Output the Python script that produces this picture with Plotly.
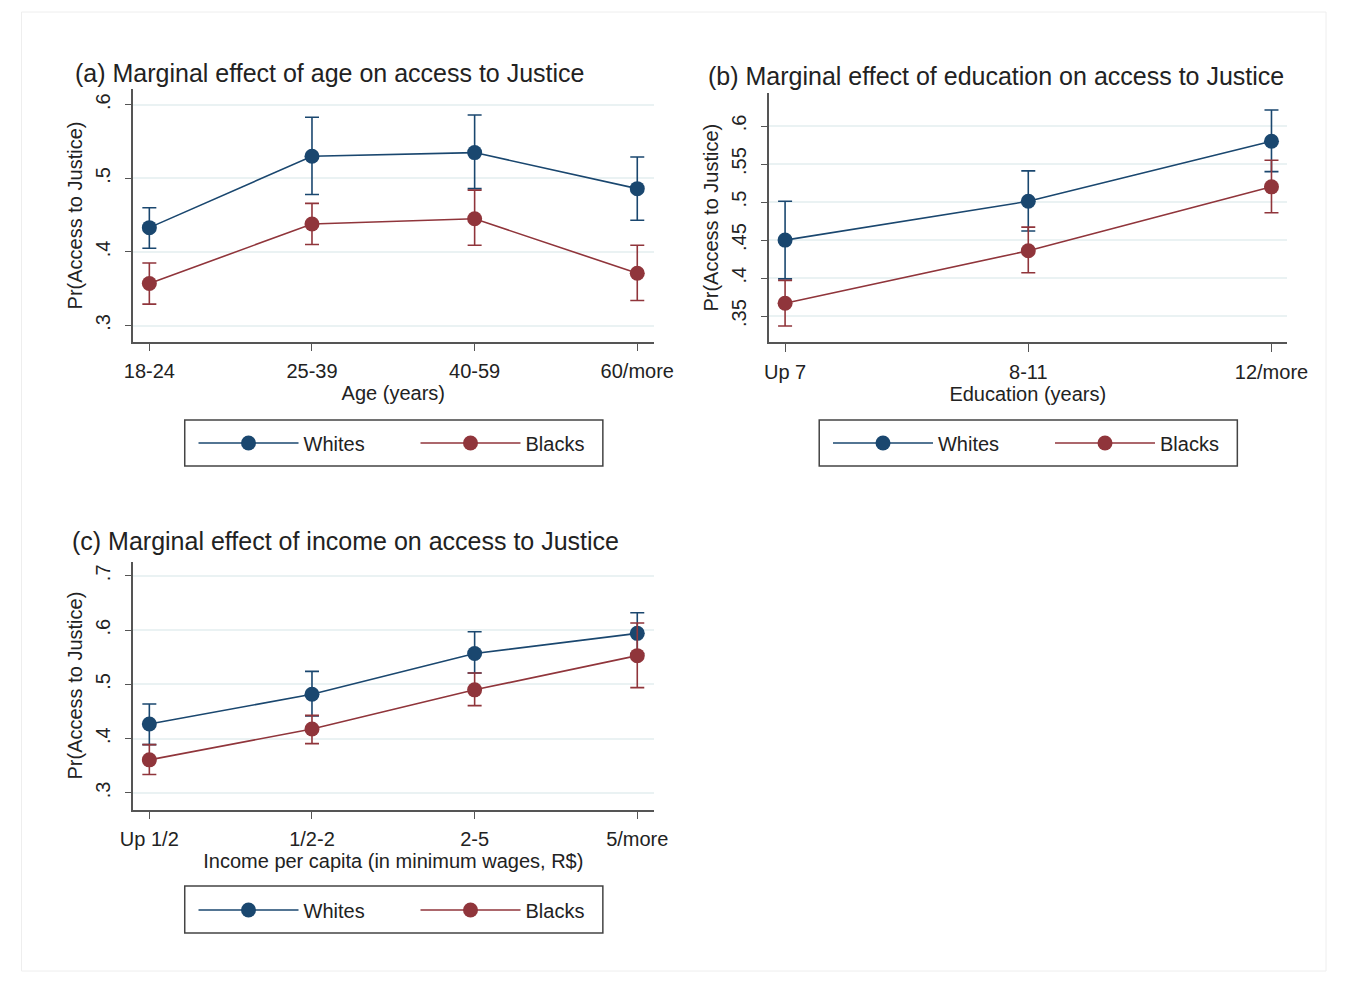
import plotly.graph_objects as go

# ---------------- data ----------------
age_cats = ["18-24", "25-39", "40-59", "60/more"]
age_whites = [0.433, 0.530, 0.535, 0.486]
age_whites_lo = [0.405, 0.478, 0.486, 0.443]
age_whites_hi = [0.460, 0.583, 0.586, 0.529]
age_blacks = [0.357, 0.438, 0.445, 0.371]
age_blacks_lo = [0.329, 0.410, 0.409, 0.334]
age_blacks_hi = [0.385, 0.466, 0.484, 0.409]

edu_cats = ["Up 7", "8-11", "12/more"]
edu_whites = [0.450, 0.501, 0.580]
edu_whites_lo = [0.399, 0.462, 0.540]
edu_whites_hi = [0.501, 0.541, 0.621]
edu_blacks = [0.367, 0.436, 0.520]
edu_blacks_lo = [0.337, 0.407, 0.486]
edu_blacks_hi = [0.397, 0.467, 0.555]

inc_cats = ["Up 1/2", "1/2-2", "2-5", "5/more"]
inc_whites = [0.427, 0.482, 0.557, 0.594]
inc_whites_lo = [0.389, 0.442, 0.521, 0.557]
inc_whites_hi = [0.464, 0.524, 0.597, 0.632]
inc_blacks = [0.361, 0.418, 0.490, 0.553]
inc_blacks_lo = [0.334, 0.391, 0.461, 0.494]
inc_blacks_hi = [0.389, 0.443, 0.521, 0.613]

age_ticks = [0.3, 0.4, 0.5, 0.6]
age_ticktext = [".3", ".4", ".5", ".6"]
edu_ticks = [0.35, 0.4, 0.45, 0.5, 0.55, 0.6]
edu_ticktext = [".35", ".4", ".45", ".5", ".55", ".6"]
inc_ticks = [0.3, 0.4, 0.5, 0.6, 0.7]
inc_ticktext = [".3", ".4", ".5", ".6", ".7"]

titles = ["(a) Marginal effect of age on access to Justice",
          "(b) Marginal effect of education on access to Justice",
          "(c) Marginal effect of income on access to Justice"]
xtitles = ["Age (years)", "Education (years)",
           "Income per capita (in minimum wages, R$)"]
ytitle = "Pr(Access to Justice)"
series_names = ["Whites", "Blacks"]

# ---------------- style ----------------
OFF = 8            # default body margin of the page
W, H = 1340, 964   # figure size so that it fits inside the window
NAVY = "#1a476f"
MAROON = "#90353b"
FONT = "Liberation Sans, Arial, sans-serif"
TXT = "#222222"

def px_x(p):
    return (p - OFF) / W

def px_y(p):
    return 1 - (p - OFF) / H

fig = go.Figure()

panels = [
    dict(cats=age_cats, data=[(age_whites, age_whites_lo, age_whites_hi),
                              (age_blacks, age_blacks_lo, age_blacks_hi)],
         xa="x", ya="y", legend="legend"),
    dict(cats=edu_cats, data=[(edu_whites, edu_whites_lo, edu_whites_hi),
                              (edu_blacks, edu_blacks_lo, edu_blacks_hi)],
         xa="x2", ya="y2", legend="legend2"),
    dict(cats=inc_cats, data=[(inc_whites, inc_whites_lo, inc_whites_hi),
                              (inc_blacks, inc_blacks_lo, inc_blacks_hi)],
         xa="x3", ya="y3", legend="legend3"),
]

colors = [NAVY, MAROON]
for p in panels:
    for (vals, lo, hi), color, name in zip(p["data"], colors, series_names):
        fig.add_trace(go.Scatter(
            x=p["cats"], y=vals, name=name, mode="lines+markers",
            xaxis=p["xa"], yaxis=p["ya"], legend=p["legend"],
            line=dict(color=color, width=1.6),
            marker=dict(color=color, size=15),
            error_y=dict(type="data", symmetric=False,
                         array=[h - v for h, v in zip(hi, vals)],
                         arrayminus=[v - l for v, l in zip(vals, lo)],
                         color=color, thickness=1.6, width=7),
        ))

axis_common = dict(showline=True, linecolor="#555555", linewidth=1.5,
                   ticks="outside", tickcolor="#555555", tickwidth=1.2,
                   zeroline=False, tickfont=dict(family=FONT, size=20, color=TXT),
                   title_font=dict(family=FONT, size=20, color=TXT))

xcommon = dict(axis_common, type="category", showgrid=False, ticklen=8,
               ticklabelstandoff=3)
ycommon = dict(axis_common, showgrid=True, gridcolor="#eaf2f3", gridwidth=1.5,
               ticklen=6, tickangle=-90, ticklabelstandoff=7)

fig.update_layout(
    xaxis=dict(xcommon, domain=[px_x(123), px_x(657)], range=[-0.1, 3.1],
               anchor="y", title=dict(text=xtitles[0], standoff=5)),
    yaxis=dict(ycommon, domain=[px_y(341.7), px_y(89.3)], range=[0.278, 0.621],
               anchor="x", tickvals=age_ticks, ticktext=age_ticktext,
               title=dict(text=ytitle, standoff=4)),
    xaxis2=dict(xcommon, domain=[px_x(775), px_x(1307)], range=[-0.068, 2.064],
                anchor="y2", title=dict(text=xtitles[1], standoff=5)),
    yaxis2=dict(ycommon, domain=[px_y(342), px_y(93.3)], range=[0.316, 0.643],
                anchor="x2", tickvals=edu_ticks, ticktext=edu_ticktext,
                title=dict(text=ytitle, standoff=4)),
    xaxis3=dict(xcommon, domain=[px_x(123), px_x(657)], range=[-0.1, 3.1],
                anchor="y3", title=dict(text=xtitles[2], standoff=5)),
    yaxis3=dict(ycommon, domain=[px_y(809.5), px_y(561.7)], range=[0.2696, 0.726],
                anchor="x3", tickvals=inc_ticks, ticktext=inc_ticktext,
                title=dict(text=ytitle, standoff=4)),
)

# legend boxes (frames) and legends inside them
legend_boxes = [(176, 420, 605, 466), (827, 420, 1256, 466), (176, 886, 605, 933)]
for (x0, y0, x1, y1) in legend_boxes:
    fig.add_shape(type="rect", xref="paper", yref="paper",
                  x0=px_x(x0), x1=px_x(x1), y0=px_y(y1), y1=px_y(y0),
                  line=dict(color="#444444", width=1.5), fillcolor="rgba(0,0,0,0)")

legend_common = dict(orientation="h", borderwidth=0, bgcolor="rgba(0,0,0,0)",
                     xanchor="left", yanchor="middle",
                     font=dict(family=FONT, size=20, color=TXT),
                     entrywidth=107, itemwidth=100)
fig.update_layout(
    legend=dict(legend_common, x=px_x(185), y=px_y(443)),
    legend2=dict(legend_common, x=px_x(836), y=px_y(443)),
    legend3=dict(legend_common, x=px_x(185), y=px_y(910)),
)

title_pos = [(61, 73), (711, 76), (58, 541)]
for t, (tx, ty) in zip(titles, title_pos):
    fig.add_annotation(text=t, x=px_x(tx), y=px_y(ty), xref="paper", yref="paper",
                       xanchor="left", yanchor="middle", showarrow=False,
                       font=dict(family=FONT, size=25, color=TXT))

# faint outer frame
fig.add_shape(type="rect", xref="paper", yref="paper",
              x0=px_x(8.5), x1=px_x(1347), y0=px_y(971), y1=px_y(12),
              line=dict(color="#eeeeee", width=1), layer="below")

fig.update_layout(width=W, height=H, margin=dict(l=0, r=0, t=0, b=0),
                  paper_bgcolor="white", plot_bgcolor="white", showlegend=True)

fig.write_html("out.html")
